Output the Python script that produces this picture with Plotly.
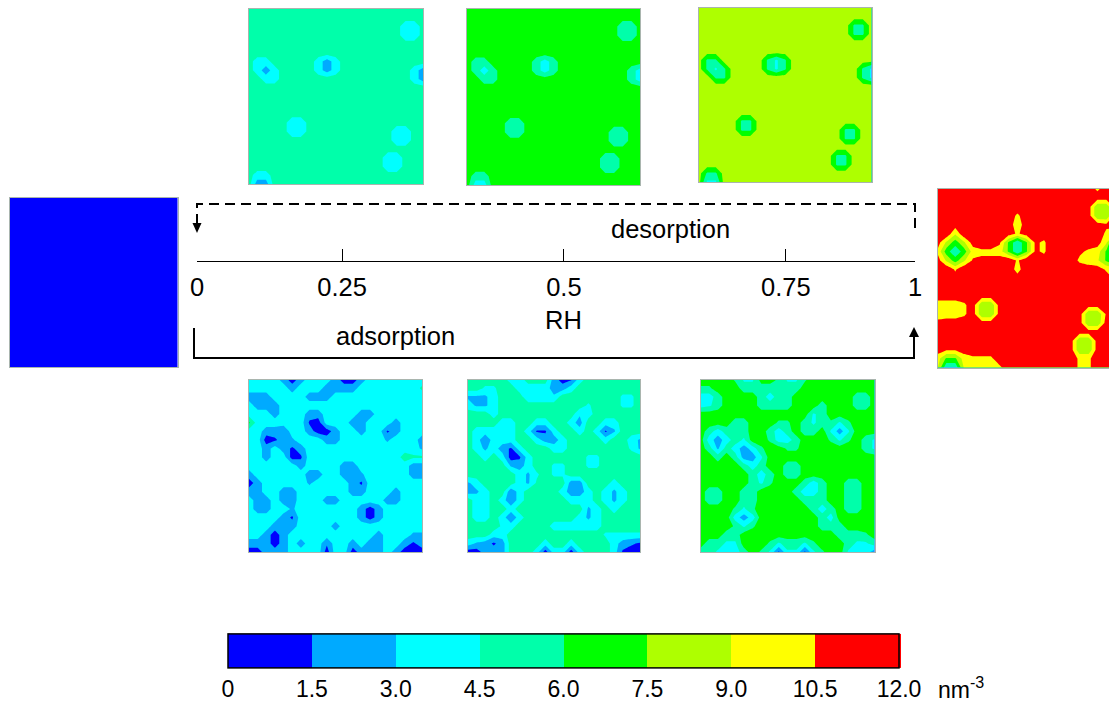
import plotly.graph_objects as go

# Each character is one grid node of a density map; int(ch, 36) * 0.5 + 0.25 gives nm^-3.
DES_075 = [
"aaaaaaaaaaaaaaaaaaaaa","aaaaaaaaaaaaaaaaaaaaa","aaaaaaaaaaaaaaaaaa66a","aaaaaaaaaaaaaaaaaa66a","aaaaaaaaaaaaaaaaaaaaa",
"aaaaaaaaaaaaaaaaaaaaa","a77aaaaa747aaaaaaaaaa","a747aaaa747aaaaaaaa74","aa77aaaaaaaaaaaaaaa74","aaaaaaaaaaaaaaaaaaaaa",
"aaaaaaaaaaaaaaaaaaaaa","aaaaaaaaaaaaaaaaaaaaa","aaaaaaaaaaaaaaaaaaaaa","aaaaa66aaaaaaaaaaaaaa","aaaaa66aaaaaaaaaa66aa",
"aaaaaaaaaaaaaaaaa66aa","aaaaaaaaaaaaaaaaaaaaa","aaaaaaaaaaaaaaaa66aaa","aaaaaaaaaaaaaaaa66aaa","a77aaaaaaaaaaaaaaaaaa","a44aaaaaaaaaaaaaaaaaa",
]
DES_050 = [
"ddddddddddddddddddddd","ddddddddddddddddddddd","dddddddddddddddddd99d","dddddddddddddddddd99d","ddddddddddddddddddddd",
"ddddddddddddddddddddd","daaddddda7adddddddddd","da7adddda7adddddddda7","ddaaddddddddddddddda7","ddddddddddddddddddddd",
"ddddddddddddddddddddd","ddddddddddddddddddddd","ddddddddddddddddddddd","ddddd99dddddddddddddd","ddddd99dddddddddd99dd",
"ddddddddddddddddd99dd","ddddddddddddddddddddd","dddddddddddddddd99ddd","dddddddddddddddd99ddd","daadddddddddddddddddd","d77dddddddddddddddddd",
]
DES_025 = [
"ggggggggggggggggggggg","ggggggggggggggggggggg","ggggggggggggggggggbbg","ggggggggggggggggggbbg","ggggggggggggggggggggg",
"ggggggggggggggggggggg","gbbgggggb8bgggggggggg","gb8bggggb8bggggggggb8","ggbbgggggggggggggggb8","ggggggggggggggggggggg",
"ggggggggggggggggggggg","ggggggggggggggggggggg","ggggggggggggggggggggg","gggggbbgggggggggggggg","gggggbbggggggggggbbgg",
"gggggggggggggggggbbgg","ggggggggggggggggggggg","ggggggggggggggggbbggg","ggggggggggggggggbbggg","gbbgggggggggggggggggg","g88gggggggggggggggggg",
]
FULL_RH0 = ["11", "11"]
ADS_025 = [
"777741477741147777777","777774777444477777779","444777744477777777777","744477777777777777777","777477744777744777777",
"c77777721777447774777","774437741147747724777","771245777447777757774","774742477777777777775","774771277777777777a99",
"777777477774477777744","477777744774457777744","147777757777427777777","447744777777447774777","744744777447777744777",
"744775777777741477777","777742777777741477777","777444777747777777777","774147777777777477755","444147477377474477424","114447777177144474111",
]
ADS_050 = [
"aaaaa77aaa4127aaaaaaa","aa88aa7777447aaaaaaaa","5557aaa6666aaaaaaa88a","7557aaaaaaaaaa8aaa88a","aaa7aaaaaaaaa67aaaaaa",
"aaaa77aa77aa74aa77aaa","a77777a7227aa7a725aaa","a73777aa7447aaaa7aa75","a757427aaa77aaaaaaa85","aa7a7127aaaaaa88aaaaa",
"aaaaa547aa88aa88aaaaa","aaaaaa758a88aaaaaaaaa","57aaaa759aaa44aaa7aaa","457aa37aaaa7447a757aa","a77a737aaaaa777a757aa",
"a77aa7aaaaaaaa57a7aaa","a77a737aaaaaa757aaaaa","aaaa87aaaa777777aaaaa","aaa77aaaaaaaaaaa88888","75424aaaa7aa7aaaa7432","11444aaa717717aaa7211",
]
ADS_075 = [
"ddddb88ddb88bdddddddd","bbdddaaaabaaddddddddd","77adddda7aadddddddaad","78addddaaaadddadddaad","ddddddddddddd8adddddd",
"ddddaadddbbda8ab8bddd","da7aaadda7adaad848ddd","d747a8ddb77adddb8bda8","da5a747bddbbddddddda8","ddada448ddddddddddddd",
"ddddda7addaaddddddddd","dddddda7adaaddddddddd","dddddda8bddda7addaadd","daaddaadddda77addaadd","daaddaadddddaaaddaadd",
"ddddb8bdddddda7adaadd","dddd747ddddddda7ddddd","ddddb8bdddddddaaadddd","dddaadddddddddddaaabd","daa88dddb8aa8bddda88a","aa877adb828828bdd8774",
]
FULL_RH1 = [
"mmmmmmmmmmmmmmmmmmkmm","mmmmmmmmmmmmmmmmmmmmm","mmmmmmmmmmmmmmmmmmffm","mmmmmmmmmkmmmmmmmmffm","mmmmmmmmmjmmmmmmmmmlm",
"mninmmmmmkmmmmmmmmmki","mhdhmmmle9elknmmmmmi8","kd9djkkje9elknmmlkje8","mhdhlllmnknmmmmmkjie8","mnknmmmmnjnmmmmmmmmkk",
"mmmmmmmmmmmmmmmmmmmmk","mmmmmmmmmmmmmmmmmmmmm","mmmmmmmmmmmmmmmmmmmmm","jjjkmffmmmmmmmmmmmmmm","ijjkmffmmmmmmmmmmfflm",
"mmmmmmmmmmmmmmmmmffmm","mmmmmmmmmmmmmmmmmmmmm","mmmmmmmmmmmmmmmmffmmm","mllmmmmmmmmmmmmmffmmm","jeejkkkmmmmmmmmmkkmmm","i99ijjjkmmmmmmmmkkmmm",
]

LEVELS = [0, 1.5, 3.0, 4.5, 6.0, 7.5, 9.0, 10.5, 12.0]
LEVEL_LABELS = ["0", "1.5", "3.0", "4.5", "6.0", "7.5", "9.0", "10.5", "12.0"]
BAND_COLORS = ["#0000ff", "#00aaff", "#00ffff", "#00ffaa", "#00ff00", "#aeff00", "#ffff00", "#ff0000"]
RH_TICKS = [0, 0.202, 0.511, 0.82, 1]
RH_LABELS = ["0", "0.25", "0.5", "0.75", "1"]

W, H = 1109, 702
FONT = "Liberation Sans"
def fx(p): return p / W
def fy(p): return 1 - p / H
def decode(rows): return [[int(c, 36) * 0.5 + 0.25 for c in r] for r in rows]

colorscale = []
for i, c in enumerate(BAND_COLORS):
    colorscale += [[i / 8, c], [(i + 1) / 8, c]]

PANELS = [
    (DES_075, 248.5, 423, 9, 184, 20),
    (DES_050, 467, 640, 9, 185, 20),
    (DES_025, 698.5, 871.5, 8, 182, 20),
    (ADS_025, 249, 422, 379.5, 552, 20),
    (ADS_050, 468, 640, 379.5, 552, 20),
    (ADS_075, 700.5, 874.5, 379.5, 552, 20),
    (FULL_RH1, 937.5, 1109, 189, 367.5, 19.3),
    (FULL_RH0, 9.5, 177.5, 198, 367, 20),
]

fig = go.Figure()
layout = {}
for n, (rows, l, r, t, b, xmax) in enumerate(PANELS, start=1):
    s = "" if n == 1 else str(n)
    z = decode(rows)
    if len(rows) == 2:
        fig.add_trace(go.Heatmap(z=z, x=[0, 20], y=[0, 20], xaxis=f"x{s}", yaxis=f"y{s}",
                                 colorscale=colorscale, zmin=0, zmax=12, showscale=False, hoverinfo="skip"))
    else:
        if n == 1:
            kw = dict(showscale=True, colorbar=dict(
                orientation="h", lenmode="pixels", len=671, thickness=34, thicknessmode="pixels",
                x=fx(563.5), xanchor="center", y=-1 / H, yanchor="bottom", xpad=0, ypad=0,
                outlinecolor="black", outlinewidth=1.5, tickmode="array", tickvals=LEVELS, ticktext=LEVEL_LABELS,
                ticks="outside", ticklen=1, tickcolor="rgba(0,0,0,0)", tickfont=dict(family=FONT, size=23, color="black")))
        else:
            kw = dict(showscale=False)
        fig.add_trace(go.Contour(z=z, xaxis=f"x{s}", yaxis=f"y{s}", colorscale=colorscale, zmin=0, zmax=12,
                                 contours=dict(start=0, end=12, size=1.5, coloring="fill", showlines=False),
                                 line=dict(width=0, smoothing=0), hoverinfo="skip", **kw))
    axis = dict(showgrid=False, zeroline=False, showticklabels=False, ticks="", showline=True,
                linecolor="#a9b5ae", linewidth=1, mirror=True)
    layout[f"xaxis{s}"] = dict(domain=[fx(l), fx(r)], range=[0, xmax], anchor=f"y{s}", **axis)
    layout[f"yaxis{s}"] = dict(domain=[fy(b), fy(t)], range=[20, 0], anchor=f"x{s}", **axis)

# RH axis
fig.add_trace(go.Scatter(x=RH_TICKS, y=[0] * 5, mode="markers", marker=dict(opacity=0), xaxis="x9", yaxis="y9",
                         hoverinfo="skip", showlegend=False))
layout["xaxis9"] = dict(domain=[fx(197), fx(915)], range=[0, 1], anchor="y9", showgrid=False, zeroline=False,
                        showline=True, linecolor="black", linewidth=1, ticks="inside", ticklen=12, tickcolor="black",
                        tickwidth=1, tickmode="array", tickvals=RH_TICKS, ticktext=RH_LABELS, ticklabelstandoff=3,
                        tickfont=dict(family=FONT, size=25.5, color="black"))
layout["yaxis9"] = dict(domain=[fy(261), fy(240)], range=[0, 1], anchor="x9", visible=False)

def text(s, x, y, size=25.5, anchor="center", family=FONT):
    return dict(text=s, x=fx(x), y=fy(y), xref="paper", yref="paper", showarrow=False, xanchor=anchor, yanchor="middle",
                font=dict(family=family, size=size, color="black"))
def poly(pts, dash="solid"):
    d = "M" + " L".join(f"{fx(x):.5f},{fy(y):.5f}" for x, y in pts)
    return dict(type="path", path=d, xref="paper", yref="paper", line=dict(color="black", width=2, dash=dash))
def head(x, base, tip, half):
    d = f"M{fx(x-half):.5f},{fy(base):.5f} L{fx(x+half):.5f},{fy(base):.5f} L{fx(x):.5f},{fy(tip):.5f} Z"
    return dict(type="path", path=d, xref="paper", yref="paper", fillcolor="black", line=dict(color="black", width=0))

fig.update_layout(
    width=W, height=H, margin=dict(l=0, r=0, t=0, b=0, autoexpand=False), paper_bgcolor="white", plot_bgcolor="white",
    showlegend=False,
    annotations=[text("desorption", 670.5, 229), text("adsorption", 395.5, 336), text("RH", 563, 320),
                 text("nm<sup>-3</sup>", 936, 688, 23, "left")],
    shapes=[poly([(197, 224), (197, 204), (915, 204), (915, 229)], "10px,6px"),
            poly([(194, 328), (194, 358), (914, 358), (914, 337)]),
            head(197, 223, 233, 4.5), head(914, 337, 327, 5)],
    **layout)
fig.write_html("out.html", post_script="document.body.style.margin='0';", config={"displayModeBar": False})
